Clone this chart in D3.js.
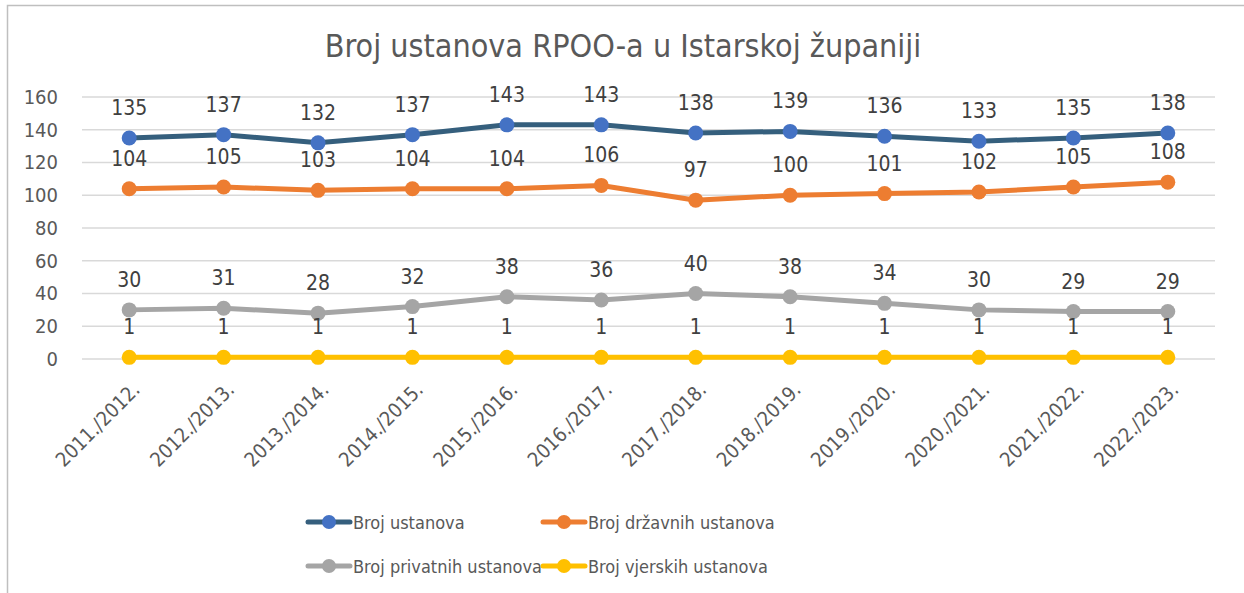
<!DOCTYPE html>
<meta charset="utf-8">
<style>
  body { margin: 0; background: #fff; }
  text { font-family: "DejaVu Sans Condensed", "DejaVu Sans", sans-serif; }
  .grid line { stroke: #d9d9d9; stroke-width: 1.5; }
  .axis text { fill: #595959; font-size: 20px; }
  .lbl { fill: #404040; font-size: 21px; text-anchor: middle; }
</style>
<body>
<div id="chart"></div>
<script src="https://d3js.org/d3.v7.min.js"></script>
<script>
// data
var years = ["2011./2012.", "2012./2013.", "2013./2014.", "2014./2015.", "2015./2016.", "2016./2017.",
             "2017./2018.", "2018./2019.", "2019./2020.", "2020./2021.", "2021./2022.", "2022./2023."];
var ukupno   = [135, 137, 132, 137, 143, 143, 138, 139, 136, 133, 135, 138];
var drzavne  = [104, 105, 103, 104, 104, 106, 97, 100, 101, 102, 105, 108];
var privatne = [30, 31, 28, 32, 38, 36, 40, 38, 34, 30, 29, 29];
var vjerske  = [1, 1, 1, 1, 1, 1, 1, 1, 1, 1, 1, 1];
var yTicks = [0, 20, 40, 60, 80, 100, 120, 140, 160];

var series = [
  {name: "Broj ustanova", values: ukupno, line: "#355f7d", dot: "#4472c4"},
  {name: "Broj državnih ustanova", values: drzavne, line: "#ed7d31", dot: "#ed7d31"},
  {name: "Broj privatnih ustanova", values: privatne, line: "#a5a5a5", dot: "#a5a5a5"},
  {name: "Broj vjerskih ustanova", values: vjerske, line: "#ffc000", dot: "#ffc000"}
];

var W = 1244, H = 593;
var svg = d3.select("#chart").append("svg").attr("width", W).attr("height", H);

// chart border
svg.append("rect").attr("x", 7.5).attr("y", 5.5).attr("width", W + 10).attr("height", H + 10)
   .attr("fill", "#fff").attr("stroke", "#bfbfbf").attr("stroke-width", 1.5);

svg.append("text").attr("x", 623).attr("y", 57).attr("text-anchor", "middle")
   .attr("fill", "#595959").style("font-size", "32px").text("Broj ustanova RPOO-a u Istarskoj županiji");

var x = d3.scaleBand().domain(years).range([82, 1215]);
var y = d3.scaleLinear().domain([0, 160]).range([359, 97]);
var cx = function(i) { return x(years[i]) + x.bandwidth() / 2; };

// gridlines
svg.append("g").attr("class", "grid").selectAll("line").data(yTicks).enter().append("line")
   .attr("x1", 82).attr("x2", 1215)
   .attr("y1", function(d) { return y(d); }).attr("y2", function(d) { return y(d); });

var yAxis = svg.append("g").attr("class", "axis").attr("transform", "translate(82,0)")
   .call(d3.axisLeft(y).tickValues(yTicks).tickSize(0).tickPadding(24));
yAxis.select(".domain").remove();

var xAxis = svg.append("g").attr("class", "axis").attr("transform", "translate(0,359)")
   .call(d3.axisBottom(x).tickSize(0));
xAxis.select(".domain").remove();
xAxis.selectAll("text")
   .attr("x", 0).attr("y", 0)
   .attr("dy", "0.35em")
   .style("text-anchor", "end")
   .attr("transform", "translate(7,27) rotate(-45)");

var line = d3.line()
   .x(function(d, i) { return cx(i); })
   .y(function(d) { return y(d); });

series.forEach(function(s) {
  var g = svg.append("g");
  g.append("path").datum(s.values).attr("d", line)
   .attr("fill", "none").attr("stroke", s.line).attr("stroke-width", 5).attr("stroke-linejoin", "round");
  g.selectAll("circle").data(s.values).enter().append("circle")
   .attr("cx", function(d, i) { return cx(i); })
   .attr("cy", function(d) { return y(d); })
   .attr("r", 7.5).attr("fill", s.dot);
  g.selectAll("text").data(s.values).enter().append("text").attr("class", "lbl")
   .attr("x", function(d, i) { return cx(i); })
   .attr("y", function(d) { return y(d) - 23; })
   .text(function(d) { return d; });
});

// legend
var legPos = [[308, 522], [543, 522], [308, 566], [543, 566]];
series.forEach(function(s, i) {
  var p = legPos[i];
  var g = svg.append("g").attr("transform", "translate(" + p[0] + "," + p[1] + ")");
  g.append("line").attr("x1", 0).attr("x2", 42).attr("stroke", s.line).attr("stroke-width", 5).attr("stroke-linecap", "round");
  g.append("circle").attr("cx", 21).attr("r", 7).attr("fill", s.dot);
  g.append("text").attr("x", 45).attr("y", 7).attr("fill", "#595959").style("font-size", "18px").text(s.name);
});
</script>
</body>
